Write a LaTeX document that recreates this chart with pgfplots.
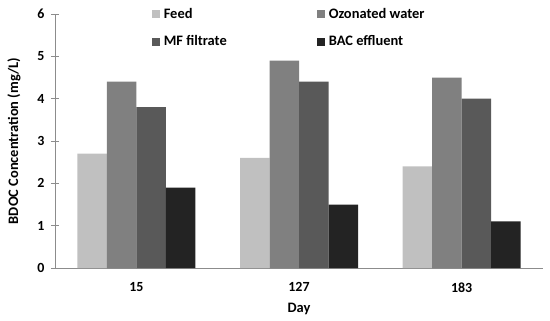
\documentclass[border=0pt]{standalone}
\usepackage{pgfplots}
\pgfplotsset{compat=1.18}
\usepackage{fontspec}
\setmainfont{Carlito}
\definecolor{cFeed}{HTML}{C0C0C0}
\definecolor{cOzo}{HTML}{808080}
\definecolor{cMF}{HTML}{595959}
\definecolor{cBAC}{HTML}{232323}
\definecolor{axgray}{HTML}{8C8C8C}
\begin{document}
\begin{tikzpicture}
\begin{axis}[
  scale only axis,
  width=488bp, height=254bp,
  ybar=0pt, bar width=29.5bp,
  xmin=-0.5, xmax=2.5,
  ymin=0, ymax=6,
  xtick={0,1,2}, xticklabels={15,127,183},
  ytick={0,1,2,3,4,5,6},
  axis x line=bottom, axis y line=left,
  axis line style={-, draw=axgray, line width=1pt},
  x tick style={draw=none},
  y tick style={draw=axgray, line width=1pt},
  major tick length=8bp, tick align=center,
  font=\fontsize{14.5}{16}\selectfont\bfseries,
  tick label style={font=\fontsize{14}{16}\selectfont\bfseries},
  /pgf/number format/assume math mode=true,
  xticklabel style={yshift=-7bp},
  yticklabel style={xshift=-3bp},
  xlabel={Day}, ylabel={BDOC Concentration (mg/L)},
  xlabel style={yshift=-4bp},
  ylabel style={yshift=10bp},
  legend columns=2,
  legend cell align=left,
  legend style={draw=none, fill=none, inner sep=0pt, row sep=13bp,
    at={(rel axis cs:0.199,1.03)}, anchor=north west,
    nodes={inner sep=1.5bp}},
  legend image code/.code={\fill[#1] (0bp,-4bp) rectangle (8bp,4bp);},
]
\addplot[fill=cFeed, draw=none] coordinates {(0,2.7) (1,2.6) (2,2.4)};
\addlegendentry{\makebox[154bp][l]{\hspace{2bp}Feed}}
\addplot[fill=cOzo, draw=none] coordinates {(0,4.4) (1,4.9) (2,4.5)};
\addlegendentry{\hspace{2bp}Ozonated water}
\addplot[fill=cMF, draw=none] coordinates {(0,3.8) (1,4.4) (2,4.0)};
\addlegendentry{\makebox[154bp][l]{\hspace{2bp}MF filtrate}}
\addplot[fill=cBAC, draw=none] coordinates {(0,1.9) (1,1.5) (2,1.1)};
\addlegendentry{\hspace{2bp}BAC effluent}
\end{axis}
\path (current axis.south west) ++(-55bp,-53bp) rectangle ++(550bp,321bp);
\end{tikzpicture}
\end{document}
